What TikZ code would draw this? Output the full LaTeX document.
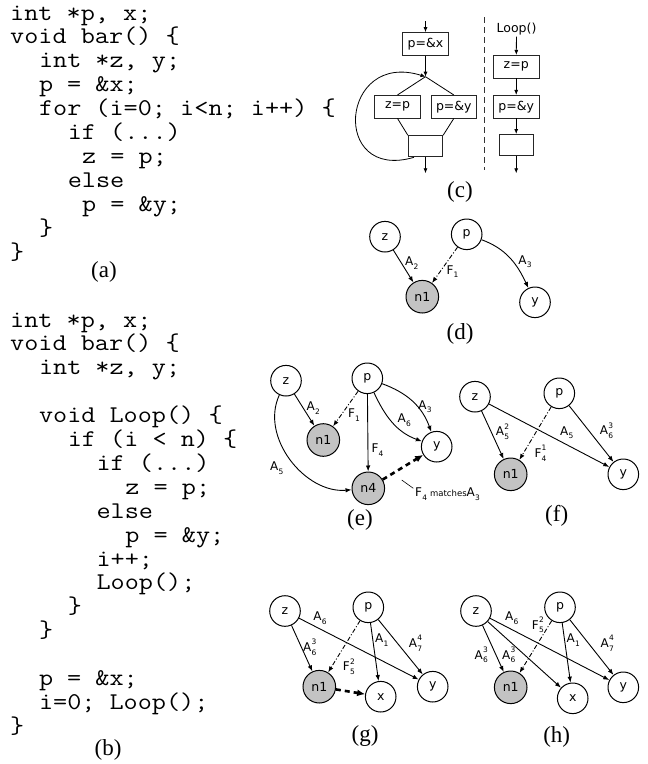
\documentclass[tikz,border=0pt]{standalone}
\usepackage{fontspec}
\setmainfont{Liberation Serif}
\setmonofont[FakeStretch=1.143]{Latin Modern Mono}
\newfontfamily\dvs{DejaVu Sans}
\usetikzlibrary{arrows.meta}
\definecolor{ngray}{RGB}{195,195,195}
\newcommand\Lsub[2]{#1\kern0.3pt\raisebox{-0.3em}{\fontsize{7.5}{7.5}\selectfont #2}}
\newcommand\Lss[3]{#1\kern0.3pt\rlap{\raisebox{-0.3em}{\fontsize{7.5}{7.5}\selectfont #2}}\raisebox{0.55em}{\fontsize{7.5}{7.5}\selectfont #3}}
\tikzset{
 codeline/.style={font=\ttfamily\fontsize{24}{24}\selectfont, anchor=base west, inner sep=0pt},
 caplab/.style={font=\fontsize{23}{23}\selectfont, inner sep=0pt},
 vnode/.style={circle, draw, line width=1pt, minimum size=30.6pt, inner sep=0pt, font=\dvs\fontsize{12.5}{12.5}\selectfont},
 snode/.style={vnode, fill=ngray, minimum size=32.6pt},
 elab/.style={font=\dvs\fontsize{12}{12}\selectfont, inner sep=0pt},
 arr/.style={-{Latex[length=6pt,width=4.5pt]}, line width=0.9pt},
 farr/.style={arr, dash pattern=on 4.5pt off 2pt on 1pt off 2pt},
 tarr/.style={-{Latex[length=8pt,width=7pt]}, line width=2.6pt, dash pattern=on 5pt off 4pt},
 carr/.style={-{Latex[length=5pt,width=4pt]}, line width=0.8pt},
 cbox/.style={draw=black!85, line width=0.9pt, minimum width=45.6pt, minimum height=22.6pt, inner sep=0pt, font=\dvs\fontsize{12.5}{12.5}\selectfont},
 ebox/.style={cbox, minimum width=34.4pt, minimum height=21pt},
 cline/.style={line width=0.8pt},
}
\newcommand\codeA[4]{\node[codeline] (#1) at ({10+14.4*#2},{-20-23.9*(#3-1)}) {#4};}
\newcommand\codeB[4]{\node[codeline] (#1) at ({10+14.4*#2},{-327-23.9*(#3-1)}) {#4};}
\begin{document}
\begin{tikzpicture}[x=1pt,y=1pt]
\useasboundingbox (0,0) rectangle (648,-764);
% ---------- code (a)
\codeA{a1}{0}{1}{int *p, x;}
\codeA{a2}{0}{2}{void bar() \{}
\codeA{a3}{2}{3}{int *z, y;}
\codeA{a4}{2}{4}{p = \&x;}
\codeA{a5}{2}{5}{for (i=0; i<n; i++) \{}
\codeA{a6}{4}{6}{if (...)}
\codeA{a7}{5}{7}{z = p;}
\codeA{a8}{4}{8}{else}
\codeA{a9}{5}{9}{p = \&y;}
\codeA{a10}{2}{10}{\}}
\codeA{a11}{0}{11}{\}}
\node[caplab] (capa) at (104,-272) {(a)};
% ---------- code (b)
\codeB{b1}{0}{1}{int *p, x;}
\codeB{b2}{0}{2}{void bar() \{}
\codeB{b3}{2}{3}{int *z, y;}
\codeB{b5}{2}{5}{void Loop() \{}
\codeB{b6}{4}{6}{if (i < n) \{}
\codeB{b7}{6}{7}{if (...)}
\codeB{b8}{8}{8}{z = p;}
\codeB{b9}{6}{9}{else}
\codeB{b10}{8}{10}{p = \&y;}
\codeB{b11}{6}{11}{i++;}
\codeB{b12}{6}{12}{Loop();}
\codeB{b13}{4}{13}{\}}
\codeB{b14}{2}{14}{\}}
\codeB{b16}{2}{16}{p = \&x;}
\codeB{b17}{2}{17}{i=0; Loop();}
\codeB{b18}{0}{18}{\}}
\node[caplab] (capb) at (108,-750) {(b)};
% ---------- (c) CFG
\node[cbox] (cpx) at (425.5,-43.9) {p=\&x};
\coordinate (ctop) at (425.5,-21);
\coordinate (cj) at (425.5,-76.7);
\node[cbox] (czp) at (397.5,-106.7) {z=p};
\node[cbox] (cpy) at (453.8,-106.7) {p=\&y};
\node[ebox] (cbot) at (425.5,-146.2) {};
\coordinate (cout) at (425.5,-173.3);
\coordinate (cloop) at (414,-157.3);
\draw[carr] (ctop) -- (cpx);
\draw[carr] (cpx) -- (cj);
\draw[cline] (cj) -- (czp.north);
\draw[cline] (cj) -- (cpy.north);
\draw[cline] (czp.south) -- (cbot.north west);
\draw[cline] (cpy.south) -- (cbot.north east);
\draw[carr] (cbot) -- (cout);
\draw[carr] (cloop) .. controls (330,-182) and (340,-50) .. (cj);
\coordinate (dtop) at (484,-17);
\coordinate (dbot) at (484,-170);
\draw[line width=0.9pt, black!80, dash pattern=on 6pt off 4pt] (dtop) -- (dbot);
\node[font=\dvs\fontsize{12.5}{12.5}\selectfont, inner sep=1pt] (loopt) at (516.5,-29.3) {Loop()};
\node[cbox] (rzp) at (516.2,-66.7) {z=p};
\node[cbox] (rpy) at (516.2,-106.7) {p=\&y};
\node[ebox] (rbot) at (516.2,-145) {};
\coordinate (rout) at (516.2,-173.3);
\draw[carr] (loopt) -- (rzp);
\draw[carr] (rzp) -- (rpy);
\draw[carr] (rpy) -- (rbot);
\draw[carr] (rbot) -- (rout);
\node[caplab] (capc) at (460,-192) {(c)};
% ---------- (d)
\node[vnode] (dz) at (385,-236.7) {z};
\node[vnode] (dp) at (466.7,-234.3) {p};
\node[snode] (dn1) at (422.3,-296.7) {n1};
\node[vnode] (dy) at (535,-302.3) {y};
\draw[arr] (dz) -- (dn1);
\draw[farr] (dp) -- (dn1);
\draw[arr] (dp) to[out=-20,in=115] (dy);
\node[elab] (dA2) at (411.7,-263.3) {\Lsub{A}{2}};
\node[elab] (dF1) at (452.5,-271.7) {\Lsub{F}{1}};
\node[elab] (dA3) at (525,-261.7) {\Lsub{A}{3}};
\node[caplab] (capd) at (460,-334) {(d)};
% ---------- (e)
\node[vnode] (ez) at (286,-380.7) {z};
\node[vnode] (ep) at (367.3,-378.3) {p};
\node[snode] (en1) at (323.3,-440) {n1};
\node[vnode] (ey) at (436.7,-446.7) {y};
\node[snode] (en4) at (368.3,-488.3) {n4};
\draw[arr] (ez) -- (en1);
\draw[farr] (ep) -- (en1);
\draw[arr] (ep) -- (en4);
\draw[arr] (ep) to[out=-65,in=160] (ey);
\draw[arr] (ep) to[out=-20,in=110] (ey);
\draw[arr] (ez) to[out=-115,in=185] (en4);
\draw[tarr] (en4) -- (ey);
\node[elab] (eA2) at (313.3,-408.3) {\Lsub{A}{2}};
\node[elab] (eF1) at (354,-415) {\Lsub{F}{1}};
\node[elab] (eF4) at (377.5,-450) {\Lsub{F}{4}};
\node[elab] (eA6) at (404.3,-420) {\Lsub{A}{6}};
\node[elab] (eA3) at (425,-406.7) {\Lsub{A}{3}};
\node[elab] (eA5) at (276.7,-468.3) {\Lsub{A}{5}};
\coordinate (eann1) at (401.7,-480);
\coordinate (eann2) at (413.3,-488.3);
\draw[line width=0.6pt] (eann1) -- (eann2);
\node[elab, anchor=west] (eann) at (415,-494) {\Lsub{F}{4}\hspace{3pt}{\fontsize{8.5}{8.5}\selectfont matches}\Lsub{A}{3}};
\node[caplab] (cape) at (360,-520) {(e)};
% ---------- (f)
\node[vnode] (fz) at (475,-396.7) {z};
\node[vnode] (fp) at (559.3,-393.3) {p};
\node[snode] (fn1) at (510.7,-474.3) {n1};
\node[vnode] (fy) at (623.3,-474.3) {y};
\draw[arr] (fz) -- (fn1);
\draw[arr] (fz) -- (fy);
\draw[farr] (fp) -- (fn1);
\draw[arr] (fp) -- (fy);
\node[elab] (fA52) at (502.5,-431.7) {\Lss{A}{5}{2}};
\node[elab] (fA5) at (566.7,-432.7) {\Lsub{A}{5}};
\node[elab] (fA63) at (606.5,-430.7) {\Lss{A}{6}{3}};
\node[elab] (fF41) at (540.5,-453.3) {\Lss{F}{4}{1}};
\node[caplab] (capf) at (556.7,-516) {(f)};
% ---------- (g)
\node[vnode] (gz) at (285,-611) {z};
\node[vnode] (gp) at (368.3,-607.3) {p};
\node[snode] (gn1) at (319.3,-686.7) {n1};
\node[vnode] (gx) at (380.7,-696.7) {x};
\node[vnode] (gy) at (432.7,-686.7) {y};
\draw[arr] (gz) -- (gn1);
\draw[arr] (gz) -- (gy);
\draw[farr] (gp) -- (gn1);
\draw[arr] (gp) -- (gx);
\draw[arr] (gp) -- (gy);
\draw[tarr] (gn1) -- (gx);
\node[elab] (gA63) at (309.8,-647.3) {\Lss{A}{6}{3}};
\node[elab] (gA6) at (320,-618.3) {\Lsub{A}{6}};
\node[elab] (gF52) at (348.8,-666.7) {\Lss{F}{5}{2}};
\node[elab] (gA1) at (381.7,-640) {\Lsub{A}{1}};
\node[elab] (gA74) at (415.5,-643.3) {\Lss{A}{7}{4}};
\node[caplab] (capg) at (365,-736) {(g)};
% ---------- (h)
\node[vnode] (hz) at (476,-611) {z};
\node[vnode] (hp) at (560,-607.3) {p};
\node[snode] (hn1) at (510.7,-687.3) {n1};
\node[vnode] (hx) at (572.7,-698.3) {x};
\node[vnode] (hy) at (623.3,-687.3) {y};
\draw[arr] (hz) -- (hn1);
\draw[arr] (hz) -- (hx);
\draw[arr] (hz) -- (hy);
\draw[farr] (hp) -- (hn1);
\draw[arr] (hp) -- (hx);
\draw[arr] (hp) -- (hy);
\node[elab] (hA63a) at (481.2,-655) {\Lss{A}{6}{3}};
\node[elab] (hA63b) at (508.8,-655) {\Lss{A}{6}{3}};
\node[elab] (hA6) at (511.7,-618.3) {\Lsub{A}{6}};
\node[elab] (hF52) at (537.8,-625) {\Lss{F}{5}{2}};
\node[elab] (hA1) at (573.3,-640) {\Lsub{A}{1}};
\node[elab] (hA74) at (607.2,-643.3) {\Lss{A}{7}{4}};
\node[caplab] (caph) at (556.7,-736.7) {(h)};
\end{tikzpicture}
\end{document}
